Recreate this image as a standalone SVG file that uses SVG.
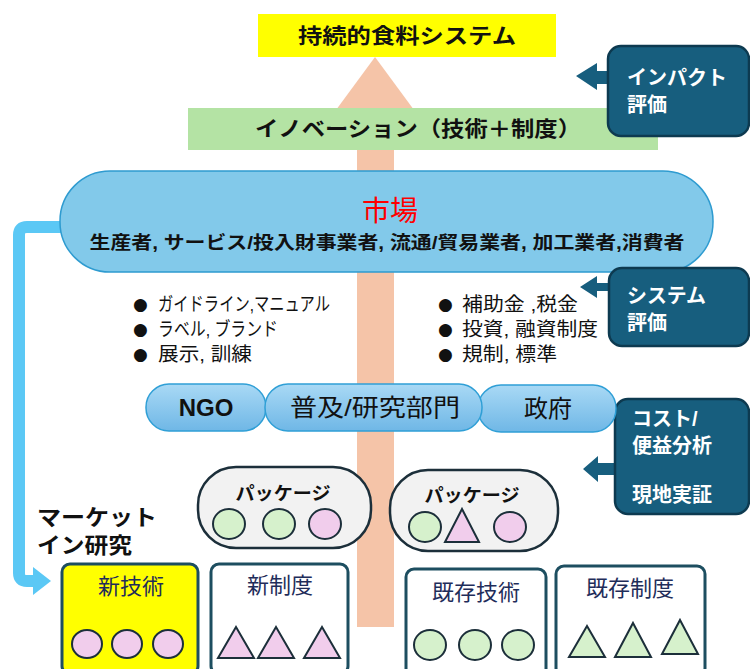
<svg xmlns="http://www.w3.org/2000/svg" width="750" height="669" viewBox="0 0 750 669">
<defs>
<linearGradient id="orgGrad" x1="0" y1="0" x2="0" y2="1">
<stop offset="0" stop-color="#a9d9f5"/>
<stop offset="1" stop-color="#6fb7e6"/>
</linearGradient>
<style>
text{font-family:"Liberation Sans","Noto Sans CJK JP",sans-serif;}
.eval rect{fill:#175e7e;stroke:#0d3a50;stroke-width:2.5;}
.eval polygon{fill:#175e7e;}
.eval text{fill:#ffffff;font-size:20px;font-weight:bold;}
.org rect{fill:url(#orgGrad);stroke:#2f9fd6;stroke-width:1.5;}
.org text{fill:#111;font-size:24px;text-anchor:middle;}
.pkg rect{fill:#f2f2f2;stroke:#1c2f3a;stroke-width:2.5;}
.pkg text{fill:#111;font-size:18px;font-weight:bold;text-anchor:middle;}
.box rect{stroke:#1d4e60;stroke-width:3;}
.box text{fill:#1f2d5a;font-size:22px;text-anchor:middle;}
.g{fill:#d6f1cc;stroke:#1c2f3a;stroke-width:2;}
.p{fill:#f1cdec;stroke:#1c2f3a;stroke-width:2;}
.bul{fill:#111;font-size:19px;}
.dot{fill:#111;font-size:17px;font-family:"DejaVu Sans",sans-serif;}
</style>
</defs>
<rect width="750" height="669" fill="#ffffff"/>

<!-- big salmon arrow -->
<g id="main-arrow">
<rect x="357" y="100" width="37" height="527" fill="#f5c4a8"/>
<polygon points="375,57 414,110 336,110" fill="#f5c4a8"/>
</g>

<g id="goal">
<rect x="258" y="14" width="298" height="43" fill="#ffff00"/>
<text x="407" y="43" font-size="21" font-weight="bold" text-anchor="middle" fill="#111" textLength="218" lengthAdjust="spacingAndGlyphs">持続的食料システム</text>
</g>

<g id="innovation">
<rect x="188" y="108" width="470" height="42" fill="#b4e3a4"/>
<text x="418" y="136" font-size="21" font-weight="bold" text-anchor="middle" fill="#111" textLength="326" lengthAdjust="spacingAndGlyphs">イノベーション（技術＋制度）</text>
</g>

<g id="connectors">
<path d="M62 227 H27 Q19 227 19 235 V573 Q19 581 27 581 H36" fill="none" stroke="#5bc8f5" stroke-width="12"/>
<polygon points="33,567 51,581 33,595" fill="#5bc8f5"/>
</g>

<g id="market">
<rect x="60" y="171" width="653" height="101" rx="50" ry="50" fill="#82c9ea" stroke="#2e9bd0" stroke-width="1.5"/>
<text x="390" y="221" font-size="28" text-anchor="middle" fill="#ff0000">市場</text>
<text x="387" y="249" font-size="18" font-weight="bold" text-anchor="middle" fill="#111" textLength="595" lengthAdjust="spacingAndGlyphs">生産者, サービス/投入財事業者, 流通/貿易業者, 加工業者,消費者</text>
</g>

<g id="impact-eval" class="eval">
<polygon points="576,76 597,63 597,71 612,71 612,84 597,84 597,90"/>
<rect x="608" y="46" width="141" height="90" rx="13" ry="13"/>
<text x="627" y="85" textLength="100" lengthAdjust="spacingAndGlyphs">インパクト</text>
<text x="627" y="112">評価</text>
</g>

<g id="system-eval" class="eval">
<polygon points="580,287 597,276 597,283 612,283 612,291 597,291 597,298"/>
<rect x="609" y="268" width="140" height="78" rx="13" ry="13"/>
<text x="627" y="303" textLength="79" lengthAdjust="spacingAndGlyphs">システム</text>
<text x="627" y="330">評価</text>
</g>

<g id="cost-eval" class="eval">
<polygon points="583,469 598,456 598,463 618,463 618,475 598,475 598,482"/>
<rect x="615" y="399" width="134" height="115" rx="13" ry="13"/>
<text x="632" y="426">コスト/</text>
<text x="632" y="453">便益分析</text>
<text x="632" y="502">現地実証</text>
</g>

<g id="bullets-left">
<text class="dot" x="133" y="310">●</text>
<text class="bul" x="158" y="311" textLength="172" lengthAdjust="spacingAndGlyphs">ガイドライン,マニュアル</text>
<text class="dot" x="133" y="335">●</text>
<text class="bul" x="158" y="336" textLength="120" lengthAdjust="spacingAndGlyphs">ラベル, ブランド</text>
<text class="dot" x="133" y="360">●</text>
<text class="bul" x="158" y="361" textLength="94" lengthAdjust="spacingAndGlyphs">展示, 訓練</text>
</g>
<g id="bullets-right">
<text class="dot" x="438" y="310">●</text>
<text class="bul" x="462" y="311" textLength="116" lengthAdjust="spacingAndGlyphs">補助金 ,税金</text>
<text class="dot" x="438" y="335">●</text>
<text class="bul" x="462" y="336" textLength="136" lengthAdjust="spacingAndGlyphs">投資, 融資制度</text>
<text class="dot" x="438" y="360">●</text>
<text class="bul" x="462" y="361" textLength="95" lengthAdjust="spacingAndGlyphs">規制, 標準</text>
</g>

<g id="ngo" class="org">
<rect x="146" y="384" width="120" height="47" rx="23" ry="23"/>
<text x="206" y="416" font-size="22" font-weight="bold">NGO</text>
</g>
<g id="government" class="org">
<rect x="478" y="385" width="138" height="47" rx="23" ry="23"/>
<text x="548" y="417" font-size="25">政府</text>
</g>
<g id="extension" class="org">
<rect x="265" y="384" width="217" height="47" rx="23" ry="23"/>
<text x="375" y="416" textLength="170" lengthAdjust="spacingAndGlyphs">普及/研究部門</text>
</g>

<g id="package-1" class="pkg">
<rect x="198" y="467" width="173" height="81" rx="38" ry="38"/>
<text x="283" y="500" textLength="95" lengthAdjust="spacingAndGlyphs">パッケージ</text>
<ellipse class="g" cx="229" cy="524" rx="16" ry="15"/>
<ellipse class="g" cx="279" cy="524" rx="16" ry="15"/>
<ellipse class="p" cx="325" cy="524" rx="16" ry="15"/>
</g>

<g id="package-2" class="pkg">
<rect x="390" y="470" width="168" height="81" rx="38" ry="38"/>
<text x="472" y="502" textLength="95" lengthAdjust="spacingAndGlyphs">パッケージ</text>
<ellipse class="g" cx="425" cy="527" rx="16" ry="15"/>
<polygon class="p" points="462,509 479,542 445,542"/>
<ellipse class="p" cx="510" cy="527" rx="16" ry="15"/>
</g>

<g id="market-in">
<text x="37" y="525" font-size="22" font-weight="bold" fill="#111" textLength="120" lengthAdjust="spacingAndGlyphs">マーケット</text>
<text x="37" y="553" font-size="22" font-weight="bold" fill="#111" textLength="95" lengthAdjust="spacingAndGlyphs">イン研究</text>
</g>

<g id="new-tech" class="box">
<rect x="62" y="564" width="136" height="110" rx="8" ry="8" fill="#ffff00"/>
<text x="131" y="594">新技術</text>
<ellipse class="p" cx="87" cy="644" rx="15" ry="14"/>
<ellipse class="p" cx="127" cy="644" rx="15" ry="14"/>
<ellipse class="p" cx="168" cy="644" rx="15" ry="14"/>
</g>

<g id="new-inst" class="box">
<rect x="211" y="564" width="137" height="110" rx="8" ry="8" fill="#ffffff"/>
<text x="280" y="593">新制度</text>
<polygon class="p" points="236,627 254,658 218,658"/>
<polygon class="p" points="276,627 294,658 258,658"/>
<polygon class="p" points="322,627 340,658 304,658"/>
</g>

<g id="existing-tech" class="box">
<rect x="406" y="569" width="140" height="110" rx="8" ry="8" fill="#ffffff"/>
<text x="476" y="600">既存技術</text>
<ellipse class="g" cx="430" cy="645" rx="16" ry="15"/>
<ellipse class="g" cx="475" cy="645" rx="16" ry="15"/>
<ellipse class="g" cx="518" cy="645" rx="16" ry="15"/>
</g>

<g id="existing-inst" class="box">
<rect x="556" y="566" width="149" height="110" rx="8" ry="8" fill="#ffffff"/>
<text x="630" y="596">既存制度</text>
<polygon class="g" points="587,626 605,657 569,657"/>
<polygon class="g" points="633,623 651,657 615,657"/>
<polygon class="g" points="680,620 698,654 662,654"/>
</g>
</svg>
